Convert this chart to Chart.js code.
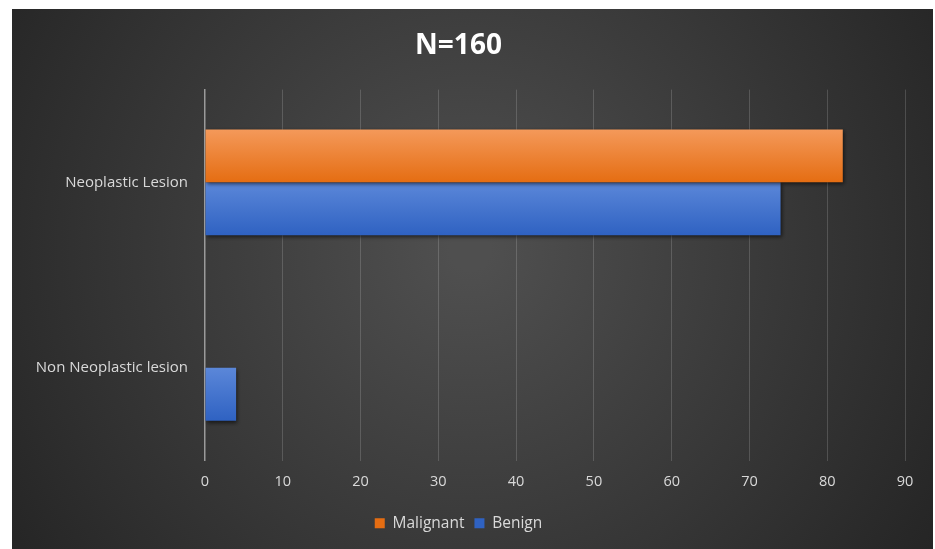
<!DOCTYPE html>
<html>
<head>
<meta charset="utf-8">
<script src="https://cdn.jsdelivr.net/npm/chart.js@4"></script>
<style>
  html, body { margin: 0; padding: 0; background: #fff; }
  #wrap { width: 935px; height: 549px; }
</style>
</head>
<body>
<div id="wrap"><canvas id="barChart"></canvas></div>
<script>
const categories = ['Neoplastic Lesion', 'Non Neoplastic lesion'];
const malignant = [82, 0];
const benign = [74, 4];
const xTicks = [0, 10, 20, 30, 40, 50, 60, 70, 80, 90];

const CAT_PCT = 0.57;

// vertical gradient per bar, like the Excel fill
function barFill(top, bottom) {
  return (c) => {
    const chart = c.chart;
    if (!chart.chartArea) return bottom;
    const y = chart.scales.y;
    const center = y.getPixelForValue(c.dataIndex);
    const band = (y.height / categories.length) * CAT_PCT;
    const y0 = c.datasetIndex === 0 ? center - band / 2 : center;
    const g = chart.ctx.createLinearGradient(0, y0, 0, y0 + band / 2);
    g.addColorStop(0, top);
    g.addColorStop(1, bottom);
    return g;
  };
}

// dark radial backdrop with white frame
const backdrop = {
  id: 'backdrop',
  beforeDraw(chart) {
    const ctx = chart.ctx;
    ctx.save();
    ctx.fillStyle = '#ffffff';
    ctx.fillRect(0, 0, chart.width, chart.height);
    const g = ctx.createRadialGradient(470, 250, 20, 470, 250, 600);
    g.addColorStop(0, '#4f4f4f');
    g.addColorStop(1, '#212121');
    ctx.fillStyle = g;
    ctx.fillRect(12, 9, 921, 540);
    ctx.restore();
  },
  beforeDatasetsDraw(chart) {
    const ctx = chart.ctx;
    ctx.save();
    ctx.shadowColor = 'rgba(0,0,0,0.6)';
    ctx.shadowBlur = 4;
    ctx.shadowOffsetX = 1;
    ctx.shadowOffsetY = 2;
  },
  afterDatasetsDraw(chart) {
    chart.ctx.restore();
  }
};

new Chart(document.getElementById('barChart').getContext('2d'), {
  type: 'bar',
  data: {
    labels: categories,
    datasets: [
      {
        label: 'Malignant',
        data: malignant,
        backgroundColor: barFill('#f4995a', '#e56d12'),
        borderWidth: 0,
        categoryPercentage: CAT_PCT,
        barPercentage: 1
      },
      {
        label: 'Benign',
        data: benign,
        backgroundColor: barFill('#5b87d9', '#2f62c2'),
        borderWidth: 0,
        categoryPercentage: CAT_PCT,
        barPercentage: 1
      }
    ]
  },
  options: {
    indexAxis: 'y',
    responsive: true,
    maintainAspectRatio: false,
    animation: false,
    layout: { padding: { top: 9, left: 12, right: 30, bottom: 8 } },
    plugins: {
      title: {
        display: true,
        text: 'N=160',
        color: '#ffffff',
        font: { family: 'Open Sans', size: 28, weight: 'bold' },
        padding: { top: 20, bottom: 27 }
      },
      legend: {
        position: 'bottom',
        labels: {
          color: '#d9d9d9',
          boxWidth: 10,
          boxHeight: 10,
          padding: 10,
          font: { family: 'Open Sans', size: 15.5 }
        }
      },
      tooltip: { enabled: false }
    },
    scales: {
      x: {
        min: 0,
        max: 90,
        afterBuildTicks: (s) => { s.ticks = xTicks.map(v => ({ value: v })); },
        afterFit: (s) => { s.height = 45; },
        border: { display: false },
        grid: {
          color: (c) => c.index === 0 ? 'rgba(0,0,0,0)' : 'rgba(255,255,255,0.16)',
          lineWidth: 1,
          drawTicks: false
        },
        ticks: {
          color: '#d9d9d9',
          padding: 13,
          font: { family: 'Open Sans', size: 14.5 }
        }
      },
      y: {
        afterFit: (s) => { s.width = 193; },
        border: { display: true, color: '#9a9a9a', width: 1.5 },
        grid: { display: false },
        ticks: {
          color: '#d9d9d9',
          padding: 9,
          font: { family: 'Open Sans', size: 15 }
        }
      }
    }
  },
  plugins: [backdrop]
});
</script>
</body>
</html>
